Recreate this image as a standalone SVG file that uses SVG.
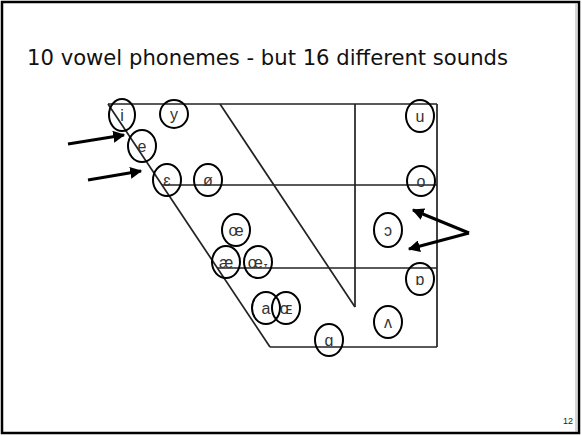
<svg xmlns="http://www.w3.org/2000/svg" width="582" height="436" viewBox="0 0 582 436">
<style>
.chart{stroke:#222;stroke-width:1.7;fill:none}
.c{fill:none;stroke:#000;stroke-width:2}
.l{font-family:"Liberation Sans","DejaVu Sans",sans-serif;font-size:16px;fill:#333;text-anchor:middle}
.arr{stroke:#000;stroke-width:3;fill:none}
</style>
<defs>
<marker id="ah" viewBox="0 0 10 10" refX="9" refY="5" markerWidth="4" markerHeight="4" orient="auto" markerUnits="strokeWidth">
<path d="M0,0 L10,5 L0,10 z" fill="#000"/>
</marker>
</defs>
<rect x="0" y="0" width="582" height="436" fill="#fff"/>
<rect x="2" y="2" width="577" height="431" fill="none" stroke="#000" stroke-width="2.5"/>
<line x1="576" y1="3" x2="576" y2="432" stroke="#aaa" stroke-width="1"/>
<text id="title" x="27" y="65" font-family="'DejaVu Sans',Verdana,sans-serif" font-size="21.5" fill="#111" textLength="481" lengthAdjust="spacingAndGlyphs">10 vowel phonemes - but 16 different sounds</text>
<text id="pagenum" x="563" y="424" font-family="'Liberation Sans',Arial,sans-serif" font-size="9" fill="#222">12</text>
<g id="chart" class="chart">
<line x1="108" y1="104" x2="437" y2="104"/>
<line x1="437" y1="104" x2="437" y2="347"/>
<line x1="270" y1="347" x2="437" y2="347"/>
<line x1="108" y1="104" x2="270" y2="347"/>
<line x1="162" y1="185" x2="437" y2="185"/>
<line x1="217" y1="268" x2="437" y2="268"/>
<line x1="355" y1="104" x2="355" y2="307"/>
<line x1="220" y1="104" x2="355" y2="307"/>
</g>
<g id="v-i"><ellipse class="c" cx="122" cy="115" rx="13" ry="16"/><text class="l" x="122" y="121">i</text></g>
<g id="v-y"><ellipse class="c" cx="174" cy="114" rx="14" ry="14"/><text class="l" x="174" y="120">y</text></g>
<g id="v-e"><ellipse class="c" cx="142" cy="146" rx="14" ry="16"/><text class="l" x="142" y="152">e</text></g>
<g id="v-eps"><ellipse class="c" cx="167" cy="180" rx="14" ry="16"/><text class="l" x="167" y="186">ɛ</text></g>
<g id="v-oslash"><ellipse class="c" cx="208" cy="180" rx="14" ry="16"/><text class="l" x="208" y="186">ø</text></g>
<g id="v-u"><ellipse class="c" cx="420" cy="116" rx="14" ry="16"/><text class="l" x="420" y="122">u</text></g>
<g id="v-o"><ellipse class="c" cx="421" cy="181" rx="14" ry="15"/><text class="l" x="421" y="187">o</text></g>
<g id="v-oe1"><ellipse class="c" cx="236" cy="230" rx="14" ry="16"/><text class="l" x="236" y="236">œ</text></g>
<g id="v-ae"><ellipse class="c" cx="226" cy="262" rx="14" ry="16"/><text class="l" x="226" y="268">æ</text></g>
<g id="v-oe2"><ellipse class="c" cx="258" cy="262" rx="14" ry="16"/><text class="l" x="258" y="268">œ˕</text></g>
<g id="v-a"><ellipse class="c" cx="266" cy="308" rx="14" ry="16"/><text class="l" x="266" y="314">a</text></g>
<g id="v-OE"><ellipse class="c" cx="286" cy="308" rx="14" ry="16"/><text class="l" x="286" y="314">ɶ</text></g>
<g id="v-alpha"><ellipse class="c" cx="329" cy="340" rx="14" ry="16"/><text class="l" x="329" y="346">ɑ</text></g>
<g id="v-openo"><ellipse class="c" cx="388" cy="230" rx="14" ry="17"/><text class="l" x="388" y="236">ɔ</text></g>
<g id="v-turnedalpha"><ellipse class="c" cx="420" cy="279" rx="14" ry="16"/><text class="l" x="420" y="285">ɒ</text></g>
<g id="v-wedge"><ellipse class="c" cx="388" cy="322" rx="14" ry="16"/><text class="l" x="388" y="328">ʌ</text></g>
<g id="connectors">
<line class="arr" x1="68" y1="144" x2="124" y2="135" marker-end="url(#ah)"/>
<line class="arr" x1="88" y1="180" x2="141" y2="171" marker-end="url(#ah)"/>
<line class="arr" x1="469" y1="233" x2="413" y2="210" marker-end="url(#ah)"/>
<line class="arr" x1="469" y1="233" x2="409" y2="249" marker-end="url(#ah)"/>
</g>
</svg>
